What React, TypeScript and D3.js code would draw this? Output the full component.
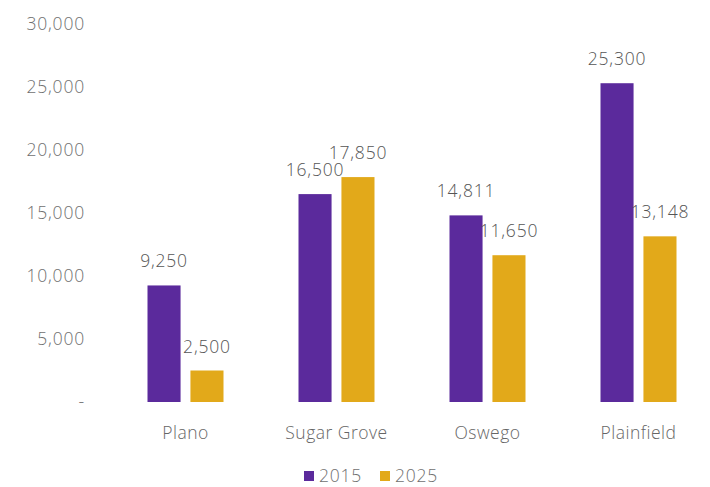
import React from "react";
import * as d3 from "d3";

const categories = ["Plano", "Sugar Grove", "Oswego", "Plainfield"];
const seriesNames = ["2015", "2025"];
const values2015 = [9250, 16500, 14811, 25300];
const values2025 = [2500, 17850, 11650, 13148];
const yTicks = [0, 5000, 10000, 15000, 20000, 25000, 30000];

const colors = ["#5b2a9c", "#e2a91a"];
const FONT = "'Open Sans', sans-serif";

export default function App() {
  const W = 710, H = 487;
  const y = d3.scaleLinear().domain([0, 30000]).range([402, 24]);
  const x0 = d3.scaleBand<string>().domain(categories).range([110, 714]).padding(0);
  const x1 = d3.scaleBand<string>().domain(seriesNames).range([0, 76]).paddingInner(0.23).paddingOuter(0);
  const fmt = d3.format(",");
  const series = [values2015, values2025];
  return (
    <svg width={W} height={H} style={{ position: "absolute", left: 0, top: 0, background: "#fff" }}>
      {yTicks.map((t) => (
        <text key={t} x={85} y={y(t)} dy="0.35em" textAnchor="end" fontFamily={FONT} fontSize={17.5}
          fontWeight={300} letterSpacing={0.8} fill="#707070">
          {t === 0 ? "-" : fmt(t)}
        </text>
      ))}
      {categories.map((c, i) => {
        const cx = x0(c)! + x0.bandwidth() / 2;
        return (
          <g key={c}>
            {seriesNames.map((s, j) => {
              const v = series[j][i];
              const bx = cx - 38 + x1(s)!;
              return (
                <g key={s}>
                  <rect x={bx} y={y(v)} width={x1.bandwidth()} height={y(0) - y(v)} fill={colors[j]} />
                  <text x={bx + x1.bandwidth() / 2} y={y(v) - 18} textAnchor="middle" fontFamily={FONT}
                    fontSize={17.5} fontWeight={300} letterSpacing={0.8} fill="#555">
                    {fmt(v)}
                  </text>
                </g>
              );
            })}
            <text x={cx} y={433} dy="0.35em" textAnchor="middle" fontFamily={FONT} fontSize={17.5}
              fontWeight={300} letterSpacing={0.5} fill="#666">{c}</text>
          </g>
        );
      })}
      {seriesNames.map((s, j) => {
        const lx = 304 + j * 76;
        return (
          <g key={s}>
            <rect x={lx} y={471} width={10} height={10} fill={colors[j]} />
            <text x={lx + 15} y={476} dy="0.35em" fontFamily={FONT} fontSize={17.5} fontWeight={300}
              letterSpacing={0.8} fill="#707070">{s}</text>
          </g>
        );
      })}
    </svg>
  );
}
